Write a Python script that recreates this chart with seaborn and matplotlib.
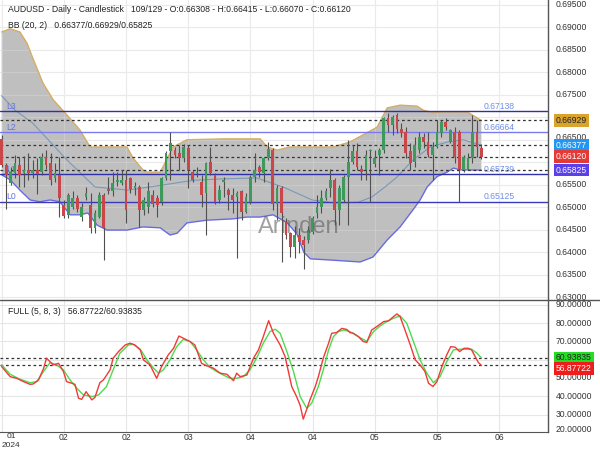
import numpy as np
import matplotlib
matplotlib.use("Agg")
import matplotlib.pyplot as plt
import matplotlib.transforms as mtransforms
from matplotlib.lines import Line2D
import seaborn as sns

# ---------------- data ----------------
opens = [0.6651, 0.6594, 0.6553, 0.6575, 0.6594, 0.6575, 0.6583, 0.6575, 0.6583, 0.6579,
         0.6612, 0.6598, 0.6564, 0.6572, 0.6505, 0.6483, 0.6501, 0.6520, 0.6479, 0.6523,
         0.6505, 0.6453, 0.6479, 0.6527, 0.6540, 0.6535, 0.6557, 0.6553, 0.6561, 0.6564,
         0.6542, 0.6544, 0.6494, 0.6501, 0.6527, 0.6520, 0.6512, 0.6564, 0.6624, 0.6627,
         0.6620, 0.6609, 0.6631, 0.6579, 0.6575, 0.6557, 0.6531, 0.6601, 0.6572, 0.6516,
         0.6557, 0.6538, 0.6527, 0.6523, 0.6535, 0.6490, 0.6512, 0.6568, 0.6589, 0.6575,
         0.6609, 0.6627, 0.6508, 0.6542, 0.6468, 0.6442, 0.6412, 0.6438, 0.6427, 0.6427,
         0.6445, 0.6486, 0.6501, 0.6520, 0.6542, 0.6560, 0.6494, 0.6516, 0.6568, 0.6601,
         0.6624, 0.6586, 0.6583, 0.6624, 0.6597, 0.6616, 0.6627, 0.6698, 0.6683, 0.6705,
         0.6675, 0.6668, 0.6624, 0.6601, 0.6627, 0.6657, 0.6646, 0.6616, 0.6635, 0.6664,
         0.6690, 0.6646, 0.6668, 0.6668, 0.6583, 0.6586, 0.6609, 0.6668, 0.66308]
highs = [0.6660, 0.6598, 0.6590, 0.6616, 0.6612, 0.6613, 0.6620, 0.6605, 0.6610, 0.6620,
         0.6628, 0.6620, 0.6598, 0.6612, 0.6515, 0.6531, 0.6535, 0.6527, 0.6510, 0.6545,
         0.6531, 0.6494, 0.6534, 0.6531, 0.6568, 0.6579, 0.6579, 0.6583, 0.6583, 0.6568,
         0.6555, 0.6550, 0.6523, 0.6557, 0.6538, 0.6527, 0.6568, 0.6624, 0.6668, 0.6635,
         0.6638, 0.6640, 0.6638, 0.6583, 0.6590, 0.6572, 0.6601, 0.6635, 0.6575, 0.6549,
         0.6568, 0.6542, 0.6542, 0.6535, 0.6538, 0.6531, 0.6572, 0.6620, 0.6594, 0.6612,
         0.6646, 0.6631, 0.6550, 0.6546, 0.6475, 0.6445, 0.6457, 0.6453, 0.6435, 0.6457,
         0.6480, 0.6527, 0.6538, 0.6542, 0.6586, 0.6564, 0.6550, 0.6572, 0.6650, 0.6638,
         0.6642, 0.6594, 0.6627, 0.6630, 0.6627, 0.6631, 0.6701, 0.6709, 0.6705, 0.6709,
         0.6687, 0.6679, 0.6642, 0.6657, 0.6668, 0.6664, 0.6668, 0.6646, 0.6694, 0.6694,
         0.6698, 0.6675, 0.6679, 0.6672, 0.6616, 0.6620, 0.6705, 0.6694, 0.66415]
lows = [0.6590, 0.6497, 0.6550, 0.6565, 0.6545, 0.6545, 0.6560, 0.6565, 0.6530, 0.6572,
        0.6585, 0.6550, 0.6555, 0.6479, 0.6475, 0.6475, 0.6495, 0.6490, 0.6470, 0.6515,
        0.6442, 0.6442, 0.6475, 0.6382, 0.6530, 0.6524, 0.6546, 0.6549, 0.6464, 0.6531,
        0.6527, 0.6456, 0.6483, 0.6486, 0.6501, 0.6479, 0.6505, 0.6560, 0.6561, 0.6610,
        0.6583, 0.6600, 0.6542, 0.6555, 0.6568, 0.6501, 0.6438, 0.6572, 0.6508, 0.6509,
        0.6523, 0.6494, 0.6486, 0.6386, 0.6472, 0.6486, 0.6508, 0.6557, 0.6568, 0.6557,
        0.6605, 0.6494, 0.6472, 0.6379, 0.6430, 0.6390, 0.6386, 0.6397, 0.6362, 0.6420,
        0.6440, 0.6475, 0.6486, 0.6516, 0.6523, 0.6460, 0.6460, 0.6512, 0.6460, 0.6597,
        0.6583, 0.6560, 0.6560, 0.6512, 0.6590, 0.6572, 0.6620, 0.6668, 0.6661, 0.6664,
        0.6657, 0.6609, 0.6583, 0.6590, 0.6620, 0.6631, 0.6612, 0.6560, 0.6631, 0.6657,
        0.6672, 0.6642, 0.6598, 0.6512, 0.6579, 0.6583, 0.6598, 0.6612, 0.66070]
closes = [0.6594, 0.6572, 0.6579, 0.6598, 0.6572, 0.6583, 0.6575, 0.6583, 0.6574, 0.6612,
          0.6594, 0.6561, 0.6575, 0.6520, 0.6480, 0.6527, 0.6520, 0.6497, 0.6501, 0.6531,
          0.6453, 0.6486, 0.6527, 0.6453, 0.6535, 0.6553, 0.6561, 0.6561, 0.6494, 0.6540,
          0.6546, 0.6494, 0.6516, 0.6535, 0.6508, 0.6505, 0.6564, 0.6621, 0.6642, 0.6616,
          0.6609, 0.6635, 0.6583, 0.6561, 0.6579, 0.6527, 0.6598, 0.6575, 0.6512, 0.6538,
          0.6561, 0.6527, 0.6516, 0.6531, 0.6490, 0.6523, 0.6568, 0.6583, 0.6579, 0.6609,
          0.6629, 0.6508, 0.6542, 0.6486, 0.6438, 0.6412, 0.6438, 0.6423, 0.6416, 0.6449,
          0.6475, 0.6501, 0.6520, 0.6535, 0.6560, 0.6494, 0.6542, 0.6568, 0.6601, 0.6624,
          0.6590, 0.6579, 0.6616, 0.6627, 0.6609, 0.6627, 0.6698, 0.6683, 0.6701, 0.6675,
          0.6664, 0.6620, 0.6598, 0.6638, 0.6657, 0.6646, 0.6616, 0.6635, 0.6668, 0.6690,
          0.6679, 0.6672, 0.6612, 0.6586, 0.6612, 0.6609, 0.6668, 0.6635, 0.66120]

# Bollinger bands, x in candle index units
bb_up_x = [0, 1.9, 4.1, 5.7, 7.0, 9.3, 11.6, 14.7, 17.6, 19.9, 24.0, 28.2, 29.6, 31.8, 32.7,
           35.7, 38.6, 41.7, 50.0, 58.2, 59.8, 62.0, 64.9, 67.2, 74.6, 78.4, 84.5, 86.8,
           89.7, 93.5, 94.9, 97.1, 99.4, 104.8, 108]
bb_up = [0.6890, 0.6897, 0.6890, 0.6865, 0.6832, 0.6776, 0.6739, 0.6705, 0.6672, 0.6634,
         0.6634, 0.6634, 0.6609, 0.6583, 0.6578, 0.6578, 0.6634, 0.6650, 0.6652, 0.6652,
         0.6634, 0.6627, 0.6634, 0.6634, 0.6634, 0.6645, 0.6678, 0.6721, 0.6727, 0.6725,
         0.6716, 0.6710, 0.6712, 0.6712, 0.66929]
bb_lo_x = [0, 1.9, 4.1, 6.4, 8.6, 10.9, 13.1, 15.4, 17.6, 19.4, 21.5, 23.7, 28.2, 31.8,
           35.7, 37.9, 39.5, 41.7, 46.2, 52.1, 55.2, 58.2, 61.1, 64.3, 66.5, 68.0, 69.5,
           74.6, 80.7, 83.6, 86.8, 89.7, 92.6, 94.2, 95.8, 98.0, 100.3, 101.7, 103.2, 108]
bb_lo = [0.6572, 0.6561, 0.6538, 0.6516, 0.6512, 0.6516, 0.6512, 0.6483, 0.6483, 0.6487,
         0.6460, 0.6449, 0.6449, 0.6456, 0.6454, 0.6438, 0.6442, 0.6465, 0.6471, 0.6474,
         0.6478, 0.6478, 0.6483, 0.6465, 0.6440, 0.6400, 0.6385, 0.6382, 0.6378, 0.6389,
         0.6427, 0.6456, 0.6494, 0.6516, 0.6545, 0.6568, 0.6578, 0.6587, 0.6583, 0.65825]
bb_mid_x = [0, 3.0, 7.0, 14.7, 21.0, 28.4, 36.1, 40.6, 43.5, 49.8, 57.5, 63.8, 69.9, 75.1,
            80.3, 83.4, 86.3, 89.0, 92.6, 96.5, 100.3, 103.9, 108]
bb_mid = [0.6748, 0.6716, 0.6687, 0.6605, 0.6545, 0.6538, 0.6549, 0.6556, 0.6560, 0.6563,
          0.6565, 0.6543, 0.6516, 0.6509, 0.6511, 0.6523, 0.6545, 0.6567, 0.6605, 0.6634,
          0.6645, 0.6650, 0.66377]

# Stochastic FULL (5,8,3)
k_x = [0, 1.9, 3.4, 4.9, 6.4, 7.1, 8.3, 9.4, 10.1, 11.6, 12.8, 13.9, 14.6, 15.8, 16.5, 17.3,
       18.0, 19.0, 20.3, 21.0, 22.1, 22.9, 24.4, 25.1, 26.3, 27.8, 28.9, 30.0, 31.2, 31.9,
       33.4, 34.9, 36.0, 37.5, 38.7, 39.9, 40.9, 42.4, 43.5, 45.0, 46.2, 47.7, 49.2, 50.7,
       52.2, 52.9, 53.7, 55.2, 56.7, 57.8, 58.9, 60.1, 61.2, 62.7, 63.8, 65.3, 66.4, 67.2,
       67.9, 68.7, 69.4, 70.6, 71.3, 72.4, 73.6, 74.3, 75.4, 76.6, 77.7, 78.4, 79.2, 80.3,
       81.4, 82.2, 83.3, 84.4, 86.0, 87.1, 88.2, 89.0, 89.7, 90.8, 92.0, 93.1, 94.2, 95.3,
       96.1, 97.1, 98.0, 99.1, 100.2, 101.1, 102.1, 103.1, 104.1, 105.1, 105.8, 106.6,
       107.3, 108]
k_val = [56.2, 50.7, 49.8, 48.0, 46.5, 46.7, 48.9, 55.0, 60.8, 57.1, 58.0, 53.5, 48.0, 47.1,
         46.5, 38.9, 38.3, 42.5, 38.0, 39.4, 47.4, 48.9, 54.4, 60.8, 64.4, 68.0, 69.0, 68.0,
         65.3, 59.9, 57.1, 49.8, 56.2, 62.6, 66.2, 72.9, 71.7, 69.9, 68.0, 58.0, 56.6, 55.3,
         52.6, 52.0, 48.5, 52.6, 50.7, 51.6, 60.8, 65.3, 72.6, 81.3, 74.4, 68.0, 61.7, 45.3,
         39.8, 35.0, 27.5, 33.0, 38.0, 45.3, 50.7, 60.8, 69.0, 74.4, 74.8, 77.1, 76.5, 74.8,
         74.4, 72.6, 69.9, 69.4, 76.2, 78.0, 80.8, 81.2, 83.5, 85.0, 83.5, 76.2, 68.0, 59.9,
         57.1, 53.5, 47.1, 45.3, 48.0, 56.2, 62.6, 67.1, 66.8, 64.4, 66.2, 66.2, 65.3, 61.7,
         58.5, 56.87722]
d_x = [0, 1.9, 4.1, 6.4, 7.9, 9.4, 10.9, 12.4, 13.9, 15.4, 16.9, 18.4, 20.3, 21.8, 23.6,
       25.1, 26.6, 28.5, 29.6, 31.2, 32.7, 34.2, 35.3, 36.4, 37.9, 39.4, 40.9, 42.4, 43.9,
       45.4, 46.9, 48.4, 49.9, 51.4, 52.9, 54.4, 55.9, 57.4, 58.9, 60.4, 61.6, 62.7, 64.2,
       65.7, 67.2, 68.7, 69.8, 71.3, 72.4, 73.6, 74.7, 75.8, 77.0, 78.4, 80.3, 82.2, 83.7,
       85.2, 86.7, 88.2, 89.7, 91.2, 92.7, 94.2, 95.7, 97.2, 98.7, 100.2, 101.7, 103.2,
       104.7, 105.8, 107.0, 108]
d_val = [57.1, 52.0, 49.3, 47.4, 48.0, 53.5, 58.4, 57.1, 54.4, 48.9, 44.4, 40.7, 39.8, 40.7,
         45.3, 54.4, 63.5, 68.0, 68.4, 65.7, 59.9, 55.3, 52.6, 54.4, 59.9, 67.1, 71.1, 69.9,
         65.3, 59.9, 55.8, 53.5, 51.6, 49.8, 49.8, 50.7, 54.4, 60.8, 69.0, 75.3, 76.6, 74.4,
         64.4, 53.5, 39.8, 33.4, 36.2, 45.3, 54.4, 65.3, 72.6, 75.3, 76.2, 75.3, 72.6, 69.9,
         75.3, 78.4, 80.8, 82.6, 83.9, 79.9, 69.9, 59.9, 52.6, 47.4, 50.7, 58.9, 65.3, 65.7,
         65.7, 65.7, 63.5, 60.93835]

levels = [0.67138, 0.66664, 0.65739, 0.65125]
level_names = ["L3", "L2", "L1", "L0"]
level_colors = ["#2f2fa8", "#7a7af0", "#2f2fa8", "#3a3ab8"]
dash_levels = [0.66929, 0.66377, 0.66120, 0.65825]
# 0.670 and 0.660 are hidden behind the value badges in the reference
price_ticks = [0.695, 0.690, 0.685, 0.680, 0.675, 0.670, 0.665, 0.660, 0.655, 0.650,
               0.645, 0.640, 0.635, 0.630]
price_tick_labels = ["0.69500", "0.69000", "0.68500", "0.68000", "0.67500", "", "0.66500", "",
                     "0.65500", "0.65000", "0.64500", "0.64000", "0.63500", "0.63000"]
osc_ticks = [90, 80, 70, 60, 50, 40, 30, 20]
osc_tick_labels = ["90.00000", "80.00000", "70.00000", "", "50.00000", "40.00000",
                   "30.00000", "20.00000"]
x_tick_pos = [0, 14, 28, 42, 56, 70, 84, 98, 112]
x_tick_labels = ["01", "02", "02", "03", "04", "04", "05", "05", "06"]

# ---------------- style ----------------
sns.set_style("white")
plt.rcParams['font.family'] = ['Liberation Sans', 'DejaVu Sans']
FS = 6.2
GREEN = "#3d9a5c"
RED = "#c9474b"

fig = plt.figure(figsize=(6, 4.5), dpi=100)
W, H = 600.0, 450.0


def rect(x0, y0, x1, y1):
    return [x0 / W, 1 - y1 / H, (x1 - x0) / W, (y1 - y0) / H]


ax = fig.add_axes(rect(0, 0, 548, 299))
ax2 = fig.add_axes(rect(0, 300, 548, 432))
XL = (-0.38, 123.0)
for a in (ax, ax2):
    a.set_xlim(*XL)
    a.set_xticks([])
    a.set_yticks([])
    for s in a.spines.values():
        s.set_visible(False)
    a.spines['right'].set_visible(True)
    a.spines['right'].set_color('#555555')
    a.spines['right'].set_linewidth(1.0)
ax2.spines['bottom'].set_visible(True)
ax2.spines['bottom'].set_color('#555555')
ax.set_ylim(0.62956, 0.69611)
ax2.set_ylim(20.45, 92.6)

# grids
for p in price_ticks:
    ax.axhline(p, color='#e6e6e6', lw=0.8, zorder=0.5)
for v in osc_ticks:
    ax2.axhline(v, color='#e6e6e6', lw=0.8, zorder=0.5)
for xp in x_tick_pos:
    ax.axvline(xp, color='#e6e6e6', lw=0.8, zorder=0.5)
    ax2.axvline(xp, color='#e6e6e6', lw=0.8, zorder=0.5)

# Bollinger band fill + lines
ax.fill(np.r_[bb_up_x, bb_lo_x[::-1]], np.r_[bb_up, bb_lo[::-1]],
        color='#bfbfbf', lw=0, zorder=1)
for p in price_ticks:
    ax.axhline(p, color='#ffffff', lw=0.7, alpha=0.18, zorder=1.1)
for xp in x_tick_pos:
    ax.axvline(xp, color='#ffffff', lw=0.7, alpha=0.18, zorder=1.1)
sns.lineplot(x=bb_up_x, y=bb_up, ax=ax, color='#d6ad62', linewidth=1.0, zorder=2)
sns.lineplot(x=bb_lo_x, y=bb_lo, ax=ax, color='#6a6ae0', linewidth=1.0, zorder=2)
sns.lineplot(x=bb_mid_x, y=bb_mid, ax=ax, color='#7a98b8', linewidth=0.8, zorder=2)

# level lines
for lv, nm, col in zip(levels, level_names, level_colors):
    ax.axhline(lv, color=col, lw=1.0, zorder=2.5)
    ax.text(1.0, lv + 0.0011, nm, color='#5f74e0', fontsize=FS, ha='left', va='center',
            zorder=6)
    ax.text(108.5, lv + 0.0011, f"{lv:.5f}", color='#6f8ee8', fontsize=FS, ha='left',
            va='center', zorder=6)
for lv in dash_levels:
    ax.axhline(lv, color='#333333', lw=0.9, ls=(0, (2.2, 2.2)), zorder=2.6)

# candles
o = np.array(opens); h = np.array(highs); l = np.array(lows); c = np.array(closes)
idx = np.arange(len(c))
cols = np.where(c >= o, GREEN, RED)
ax.vlines(idx, l, h, color='#505050', lw=0.8, zorder=3)
ax.bar(idx, np.maximum(np.abs(c - o), 0.00008), bottom=np.minimum(o, c), width=0.62,
       color=cols, linewidth=0, zorder=4)

# stochastic
for lv in (60.93835, 56.87722):
    ax2.axhline(lv, color='#333333', lw=0.9, ls=(0, (2.2, 2.2)), zorder=1.5)
sns.lineplot(x=d_x, y=d_val, ax=ax2, color='#4ddb4d', linewidth=1.0, zorder=3)
sns.lineplot(x=k_x, y=k_val, ax=ax2, color='#f03a3a', linewidth=1.0, zorder=4)
for a in (ax, ax2):
    a.set_xlabel('')
    a.set_ylabel('')

# divider line across full width
fig.add_artist(Line2D([0, 1], [1 - 300 / H, 1 - 300 / H], transform=fig.transFigure,
                      color='#555555', lw=1.0))

# right axis labels
tr1 = mtransforms.blended_transform_factory(ax.transAxes, ax.transData)
tr2 = mtransforms.blended_transform_factory(ax2.transAxes, ax2.transData)
lx = 556 / 548
for p, lb in zip(price_ticks, price_tick_labels):
    if not lb:
        continue
    yv = 0.66555 if lb == "0.66500" else p
    ax.text(lx, yv, lb, transform=tr1, fontsize=FS, color='#333333', ha='left',
            va='center', clip_on=False)
for v, lb in zip(osc_ticks, osc_tick_labels):
    if not lb:
        continue
    yv = 21.9 if v == 20 else v
    ax2.text(lx, yv, lb, transform=tr2, fontsize=FS, color='#333333', ha='left',
             va='center', clip_on=False)

badge_main = [(0.66929, "0.66929", '#d9a32e', '#222222'),
              (0.66377, "0.66377", '#2196f3', 'white'),
              (0.66120, "0.66120", '#e53935', 'white'),
              (0.65825, "0.65825", '#5b3fe8', 'white')]
for yv, txt, bg, fg in badge_main:
    ax.text(lx, yv, txt, transform=tr1, fontsize=FS, color=fg, ha='left', va='center',
            clip_on=False, zorder=10,
            bbox=dict(boxstyle='square,pad=0.22', fc=bg, ec='none'))
ax2.text(lx, 60.93835, "60.93835", transform=tr2, fontsize=FS, color='#222222', ha='left',
         va='center', clip_on=False, zorder=10,
         bbox=dict(boxstyle='square,pad=0.22', fc='#22dd22', ec='none'))
ax2.text(lx, 55.0, "56.87722", transform=tr2, fontsize=FS, color='white', ha='left',
         va='center', clip_on=False, zorder=10,
         bbox=dict(boxstyle='square,pad=0.22', fc='#ee1d1d', ec='none'))

# x tick labels
trx = mtransforms.blended_transform_factory(ax2.transData, ax2.transAxes)
for xp, lb in zip(x_tick_pos, x_tick_labels):
    if xp == 0:
        ax2.text(1.2, -0.036, lb, transform=trx, fontsize=6.0, color='#333333', ha='left',
                 va='center', clip_on=False)
    else:
        ax2.text(xp, -0.045, lb, transform=trx, fontsize=FS, color='#333333',
                 ha='center', va='center', clip_on=False)
ax2.text(0.0, -0.104, "2024", transform=trx, fontsize=6.0, color='#333333', ha='left',
         va='center', clip_on=False)

# header texts
fig.text(8 / W, 1 - 10 / H,
         "AUDUSD - Daily - Candlestick   109/129 - O:0.66308 - H:0.66415 - L:0.66070 - C:0.66120",
         fontsize=FS, color='#222222', ha='left', va='center')
fig.text(8 / W, 1 - 25 / H, "BB (20, 2)   0.66377/0.66929/0.65825",
         fontsize=FS, color='#222222', ha='left', va='center')
fig.text(8 / W, 1 - 312 / H, "FULL (5, 8, 3)   56.87722/60.93835",
         fontsize=FS, color='#222222', ha='left', va='center')

# watermark
fig.text(258 / W, 1 - 227 / H, "Arinden", fontsize=17, color='#555555', alpha=0.55,
         ha='left', va='center', zorder=20)

fig.savefig("out.png", dpi=100)
